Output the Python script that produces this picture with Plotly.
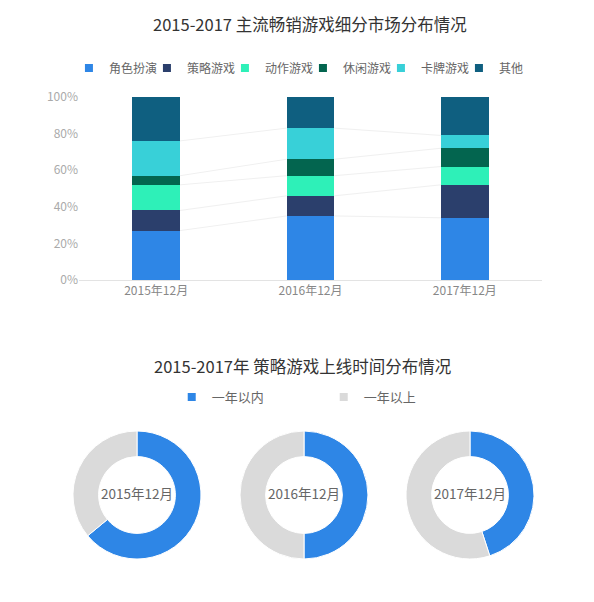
import plotly.graph_objects as go

# 柱状图数据（百分比）
months = ['2015年12月', '2016年12月', '2017年12月']
genres = ['角色扮演', '策略游戏', '动作游戏', '休闲游戏', '卡牌游戏', '其他']
rpg = [27, 35, 34]
strategy = [11, 11, 18]
action = [14, 11, 10]
casual = [5, 9, 10]
card = [19, 17, 7]
other = [24, 17, 21]
genre_colors = ['#2e86e6', '#2b3f6c', '#2ef0b8', '#03654f', '#38d0d8', '#0f5f80']
y_ticks = [0, 20, 40, 60, 80, 100]

# 环形图数据
ring_labels = ['一年以内', '一年以上']
within_year = [64, 50, 45]
over_year = [36, 50, 55]
ring_colors = ['#2e86e6', '#dadada']

FONT = 'Noto Sans CJK SC'
W, H = 594, 602
series = [rpg, strategy, action, casual, card, other]
bar_w = 0.31
xs = list(range(len(months)))

fig = go.Figure()

# 段之间的淡色连接线
cum = [[0] * len(months)]
for s in series:
    cum.append([a + b for a, b in zip(cum[-1], s)])
for level in cum[1:-1]:
    for i in range(len(months) - 1):
        fig.add_trace(go.Scatter(
            x=[i + bar_w / 2, i + 1 - bar_w / 2], y=[level[i], level[i + 1]],
            mode='lines', line=dict(color='#f0f0f0', width=1),
            showlegend=False, hoverinfo='skip'))

for name, vals, c in zip(genres, series, genre_colors):
    fig.add_trace(go.Bar(x=xs, y=vals, name=name, marker_color=c,
                         marker_line_width=0, width=bar_w, showlegend=False))
    # 小方块图例
    fig.add_trace(go.Scatter(x=[None], y=[None], mode='markers', name=name,
                             marker=dict(symbol='square', size=8, color=c),
                             legend='legend'))

# 环形图
px_centers = [137, 304, 470]
r = 64
cy = 495
for i, m in enumerate(months):
    cx = px_centers[i]
    fig.add_trace(go.Pie(
        labels=ring_labels, values=[within_year[i], over_year[i]],
        hole=0.6, sort=False, direction='clockwise', rotation=0,
        marker=dict(colors=ring_colors, line=dict(color='white', width=1)),
        textinfo='none', hoverinfo='label+percent',
        title=dict(text=m, position='middle center',
                   font=dict(family=FONT, size=13.5, color='#666')),
        domain=dict(x=[(cx - r) / W, (cx + r) / W],
                    y=[1 - (cy + r) / H, 1 - (cy - r) / H]),
        showlegend=False))

for lab, c in zip(ring_labels, ring_colors):
    fig.add_trace(go.Scatter(x=[None], y=[None], mode='markers', name=lab,
                             marker=dict(symbol='square', size=8, color=c),
                             legend='legend2'))

fig.update_layout(
    width=W, height=H,
    margin=dict(l=0, r=0, t=0, b=0, autoexpand=False),
    paper_bgcolor='white', plot_bgcolor='white',
    barmode='stack',
    font=dict(family=FONT, color='#555'),
    xaxis=dict(domain=[79 / W, 542 / W], range=[-0.5, 2.5],
               tickvals=xs, ticktext=months, showgrid=False, zeroline=False,
               showline=True, linecolor='#e3e3e3', ticks='',
               tickfont=dict(size=12, color='#888')),
    yaxis=dict(domain=[1 - 280 / H, 1 - 97 / H], range=[0, 100],
               tickvals=y_ticks, ticktext=[f'{v}%' for v in y_ticks],
               showgrid=False, zeroline=False, showline=False,
               tickfont=dict(size=12, color='#aaa')),
    legend=dict(orientation='h', x=0.51, xanchor='center', y=1 - 68 / H,
                yanchor='middle', entrywidth=33, itemwidth=30, traceorder='normal',
                font=dict(size=12, color='#666'), bgcolor='rgba(0,0,0,0)'),
    legend2=dict(orientation='h', x=0.545, xanchor='center', y=1 - 397 / H,
                 yanchor='middle', entrywidth=107, itemwidth=30, traceorder='normal',
                 font=dict(size=13, color='#666'), bgcolor='rgba(0,0,0,0)'),
    annotations=[
        dict(text='2015-2017 主流畅销游戏细分市场分布情况', x=310 / W, y=1 - 24 / H,
             xref='paper', yref='paper', xanchor='center', yanchor='middle',
             showarrow=False, font=dict(size=16.5, color='#333', family=FONT)),
        dict(text='2015-2017年 策略游戏上线时间分布情况', x=302 / W, y=1 - 366 / H,
             xref='paper', yref='paper', xanchor='center', yanchor='middle',
             showarrow=False, font=dict(size=16.5, color='#333', family=FONT)),
    ],
)

fig.write_html('out.html', config={'displayModeBar': False},
               post_script="document.body.style.margin='0';")
